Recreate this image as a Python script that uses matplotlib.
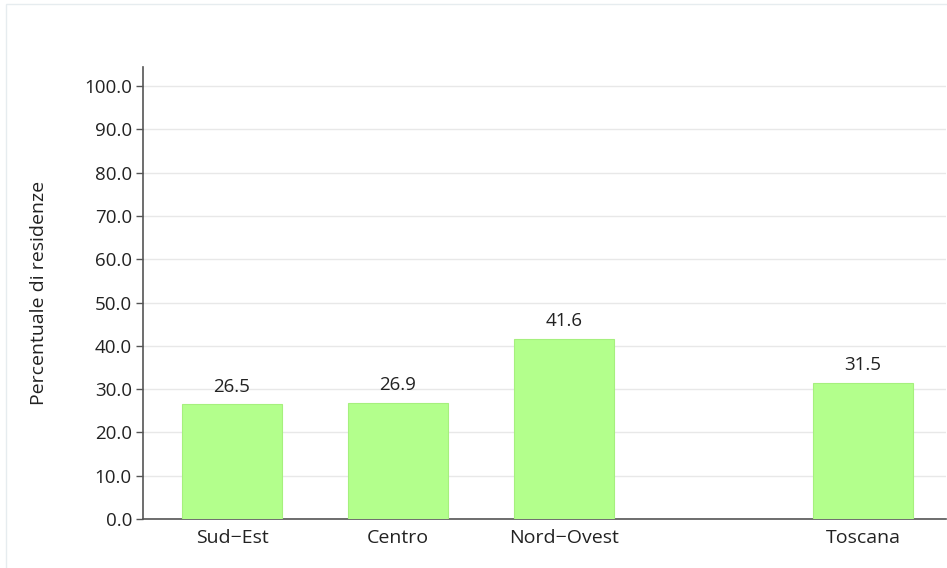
import matplotlib
matplotlib.use("Agg")
import matplotlib.pyplot as plt
from matplotlib.patches import Rectangle

# Dati: percentuale di residenze per area
aree = ['Sud\u2212Est', 'Centro', 'Nord\u2212Ovest', 'Toscana']
valori = [26.5, 26.9, 41.6, 31.5]
posizioni = [0, 1, 2, 3.8]
yticks = [0, 10, 20, 30, 40, 50, 60, 70, 80, 90, 100]

plt.rcParams['font.family'] = ['Open Sans', 'DejaVu Sans']

fig = plt.figure(figsize=(9.47, 5.68), dpi=100)
fig.patches.append(Rectangle((6 / 947, -0.01), 1.0, 1 - 4 / 568 + 0.01,
                             transform=fig.transFigure, fill=False,
                             edgecolor='#e6ecef', linewidth=1))

ax = fig.add_axes([0.151, 0.0863, 0.848, 0.7963])
ax.bar(posizioni, valori, width=0.6, color='#b3ff8c', edgecolor='#a6f07e',
       linewidth=0.8, zorder=3)

for x, v in zip(posizioni, valori):
    ax.text(x, v + 2.0, f"{v:.1f}", ha='center', va='bottom', fontsize=13.5,
            color='#222222')

ax.set_xlim(-0.536, 4.3)
ax.set_ylim(0, 104.5)
ax.set_xticks(posizioni)
ax.set_xticklabels(aree, fontsize=14, color='#222222')
ax.set_yticks(yticks)
ax.set_yticklabels([f"{t:.1f}" for t in yticks], fontsize=13.5, color='#222222')
ax.tick_params(axis='x', length=0, pad=7)
ax.tick_params(axis='y', length=5, width=1, color='#555555', pad=3)
ax.grid(axis='y', color='#e8e8e8', linewidth=1, zorder=0)

for s in ['top', 'right']:
    ax.spines[s].set_visible(False)
ax.spines['left'].set_color('#555555')
ax.spines['bottom'].set_color('#555555')
ax.spines['left'].set_linewidth(1.2)
ax.spines['bottom'].set_linewidth(1.2)

ax.set_ylabel('Percentuale di residenze', fontsize=14, color='#222222',
              labelpad=26)

fig.savefig("out.png", dpi=100)
